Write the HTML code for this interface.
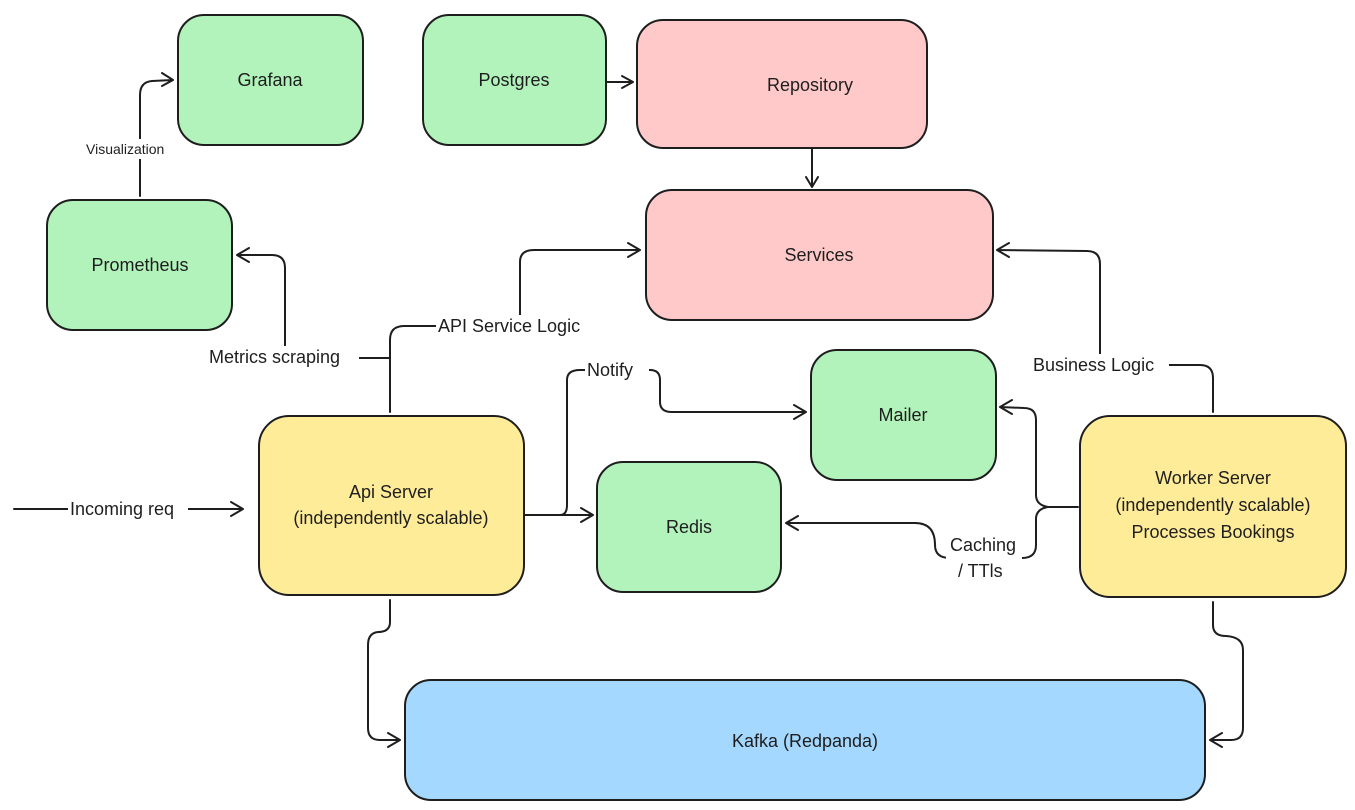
<!DOCTYPE html>
<html><head><meta charset="utf-8"><style>
html,body{margin:0;padding:0;background:#fff;}
svg{display:block;}
text{font-family:"Liberation Sans",sans-serif;font-size:18px;fill:#1e1e1e;}
.b{stroke:#1e1e1e;stroke-width:2;}
.l{fill:none;stroke:#1e1e1e;stroke-width:2;stroke-linejoin:round;stroke-linecap:round;}
.bg{fill:#fff;}
</style></head><body>
<svg width="1355" height="810" viewBox="0 0 1355 810" xmlns="http://www.w3.org/2000/svg">
<!-- boxes -->
<rect class="b" x="178" y="15" width="185" height="130" rx="26" fill="#b2f2bb"/>
<rect class="b" x="423" y="15" width="183" height="130" rx="26" fill="#b2f2bb"/>
<rect class="b" x="637" y="20" width="290" height="128" rx="26" fill="#ffc9c9"/>
<rect class="b" x="47" y="200" width="185" height="130" rx="26" fill="#b2f2bb"/>
<rect class="b" x="646" y="190" width="347" height="130" rx="26" fill="#ffc9c9"/>
<rect class="b" x="811" y="350" width="185" height="130" rx="26" fill="#b2f2bb"/>
<rect class="b" x="259" y="416" width="265" height="179" rx="30" fill="#ffec99"/>
<rect class="b" x="597" y="462" width="184" height="130" rx="26" fill="#b2f2bb"/>
<rect class="b" x="1080" y="416" width="266" height="181" rx="30" fill="#ffec99"/>
<rect class="b" x="405" y="680" width="800" height="120" rx="26" fill="#a5d8ff"/>
<!-- box labels -->
<g text-anchor="middle">
<text x="270" y="86">Grafana</text>
<text x="514" y="86">Postgres</text>
<text x="810" y="91">Repository</text>
<text x="140" y="271">Prometheus</text>
<text x="819" y="261">Services</text>
<text x="903" y="421">Mailer</text>
<text x="391" y="498">Api Server</text>
<text x="391" y="524">(independently scalable)</text>
<text x="689" y="533">Redis</text>
<text x="1213" y="484">Worker Server</text>
<text x="1213" y="511">(independently scalable)</text>
<text x="1213" y="538">Processes Bookings</text>
<text x="805" y="747">Kafka (Redpanda)</text>
</g>
<!-- connectors -->
<path class="l" d="M14 509 H243 M231 502 L243 509 L231 516"/>
<path class="l" d="M140 196 V95 Q140 82 152 81 L173 80 M162 73 L173 80 L162 86"/>
<path class="l" d="M606 82 H633 M622 76 L633 82 L622 88"/>
<path class="l" d="M812 148 V187 M806 177 L812 187 L818 177"/>
<path class="l" d="M390 412 V340 Q390 326 404 326 H520 V262 Q520 250 534 250 L640 250 M628 243 L640 250 L628 257"/>
<path class="l" d="M390 365 V358 H285 V268 Q285 255 272 255 L237 255 M249 248 L237 255 L249 262"/>
<path class="l" d="M524 515 H593 M581 508 L593 515 L581 522"/>
<path class="l" d="M560 515 Q567 515 567 505 V380 Q567 370 580 370 H650 Q660 370 660 380 V402 Q660 412 672 412 L806 412 M794 405 L806 412 L794 419"/>
<path class="l" d="M1078 507 H1048 Q1036 505 1036 495 V420 Q1036 408 1024 408 L1000 407 M1012 400 L1000 407 L1012 414"/>
<path class="l" d="M1048 507 Q1036 509 1036 519 V545 Q1036 558 1022 558 H950 Q935 558 935 545 Q935 523 915 523 L786 523 M798 516 L786 523 L798 530"/>
<path class="l" d="M1213 412 V378 Q1213 365 1200 365 H1100 V264 Q1100 251 1087 251 L997 250 M1009 243 L997 250 L1009 257"/>
<path class="l" d="M390 600 V622 Q390 632 378 632 Q368 633 368 645 V728 Q368 740 380 740 L400 740 M388 733 L400 740 L388 747"/>
<path class="l" d="M1213 602 V625 Q1213 636 1226 636 Q1243 637 1243 650 V728 Q1243 740 1231 740 L1210 740 M1222 733 L1210 740 L1222 747"/>
<!-- connector labels -->
<rect class="bg" x="68" y="498" width="120" height="22"/>
<text x="70" y="515">Incoming req</text>
<rect class="bg" x="84" y="139" width="100" height="20"/>
<text x="86" y="154" style="font-size:14px">Visualization</text>
<rect class="bg" x="436" y="315" width="168" height="22"/>
<text x="438" y="332">API Service Logic</text>
<rect class="bg" x="207" y="346" width="152" height="22"/>
<text x="209" y="363">Metrics scraping</text>
<rect class="bg" x="585" y="360" width="64" height="20"/>
<text x="587" y="376">Notify</text>
<rect class="bg" x="1031" y="354" width="138" height="22"/>
<text x="1033" y="371">Business Logic</text>
<rect class="bg" x="946" y="533" width="76" height="48"/>
<text x="950" y="551">Caching</text>
<text x="958" y="577">/ TTls</text>
</svg>
</body></html>
